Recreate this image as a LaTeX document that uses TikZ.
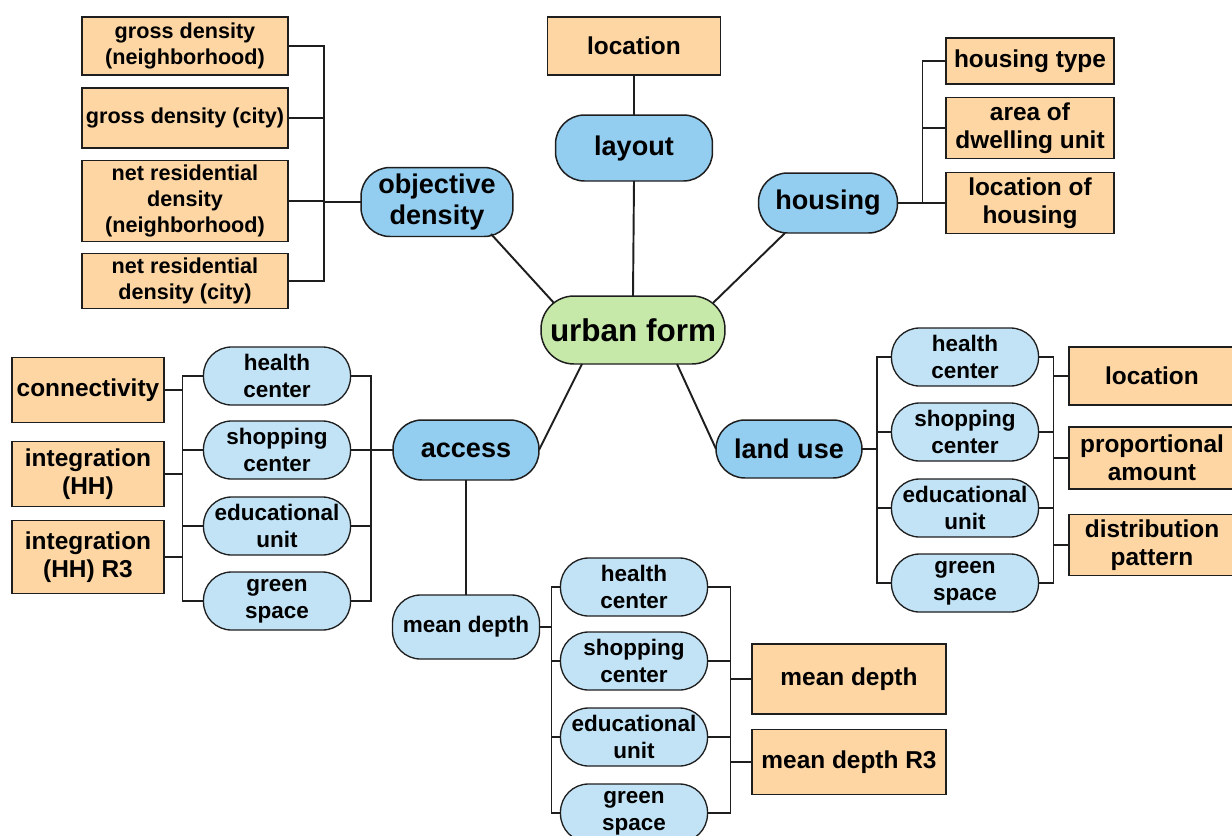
\documentclass[tikz,border=0pt]{standalone}
\usepackage{fontspec}
\setmainfont{Liberation Sans}
\usetikzlibrary{calc}

\definecolor{hubgreen}{HTML}{C6E8A8}
\definecolor{topicblue}{HTML}{93CDF0}
\definecolor{subblue}{HTML}{C2E3F5}
\definecolor{itemorange}{HTML}{FDD6A4}
\definecolor{edge}{HTML}{1E1E1E}

\tikzset{
	hub/.style={draw=edge, line width=0.85pt, fill=hubgreen, rounded corners=0.66cm, inner sep=0pt, outer sep=0pt, align=center,
		minimum width=3.68cm, minimum height=1.36cm, font=\fontsize{17.9}{20}\selectfont\bfseries},
	topic/.style={draw=edge, line width=0.85pt, fill=topicblue, rounded corners=0.58cm, inner sep=0pt, outer sep=0pt, align=center,
		font=\fontsize{15.4}{17.6}\selectfont\bfseries},
	subtopic/.style={draw=edge, line width=0.75pt, fill=subblue, rounded corners=0.56cm, inner sep=0pt, outer sep=0pt, align=center,
		minimum width=2.94cm, minimum height=1.16cm, font=\fontsize{12.8}{15.4}\selectfont\bfseries},
	itembox/.style={draw=edge, line width=0.75pt, fill=itemorange, inner sep=0pt, outer sep=0pt, align=center,
		font=\fontsize{13.9}{16}\selectfont\bfseries},
	leftitem/.style={itembox, minimum width=4.12cm, font=\fontsize{12.3}{14.8}\selectfont\bfseries},
	spoke/.style={draw=edge, line width=1.1pt},
	link/.style={draw=edge, line width=0.7pt},
}

\begin{document}
\begin{tikzpicture}[x=0.02cm, y=-0.02cm]
	\useasboundingbox (0,0) rectangle (1232,836);

	% Centre
		\node[hub] (uf) at (633,330) {urban form};

	% Layout
		\node[topic, minimum width=3.14cm, minimum height=1.32cm] (layout) at (634,148) {layout};
		\node[itembox, minimum width=3.46cm, minimum height=1.16cm] (loc) at (634,46) {location};

	% Housing
		\node[topic, minimum width=2.78cm, minimum height=1.2cm] (housing) at (828,203) {housing};
		\node[itembox, minimum width=3.36cm, minimum height=0.92cm] (htype) at (1030,61) {housing type};
		\node[itembox, minimum width=3.36cm, minimum height=1.22cm] (harea) at (1030,128) {area of\\dwelling unit};
		\node[itembox, minimum width=3.36cm, minimum height=1.22cm] (hloc) at (1030,203) {location of\\housing};

	% Objective density
		\node[topic, minimum width=3.04cm, minimum height=1.38cm] (od) at (437,202) {objective\\density};
		\node[leftitem, minimum height=1.16cm] (gdn) at (185,46) {gross density\\(neighborhood)};
		\node[leftitem, minimum height=1.2cm] (gdc) at (185,118) {gross density (city)};
		\node[leftitem, minimum height=1.62cm] (nrn) at (185,201) {net residential\\density\\(neighborhood)};
		\node[leftitem, minimum height=1.1cm] (nrc) at (185,281) {net residential\\density (city)};

	% Access
		\node[topic, minimum width=2.92cm, minimum height=1.2cm] (access) at (466,450) {access};
		\node[subtopic] (hc1) at (277,376) {health\\center};
		\node[subtopic] (sc1) at (277,450) {shopping\\center};
		\node[subtopic] (eu1) at (277,526) {educational\\unit};
		\node[subtopic] (gs1) at (277,601) {green\\space};
		\node[itembox, minimum width=3.04cm, minimum height=1.3cm] (con) at (88,390) {connectivity};
		\node[itembox, minimum width=3.04cm, minimum height=1.3cm] (ihh) at (88,474) {integration\\(HH)};
		\node[itembox, minimum width=3.04cm, minimum height=1.46cm] (ir3) at (88,557) {integration\\(HH) R3};

	% Mean depth
		\node[subtopic, minimum height=1.28cm] (md) at (466,627) {mean depth};
		\node[subtopic] (hc2) at (634,587) {health\\center};
		\node[subtopic] (sc2) at (634,661) {shopping\\center};
		\node[subtopic] (eu2) at (634,737) {educational\\unit};
		\node[subtopic] (gs2) at (634,813) {green\\space};
		\node[itembox, minimum width=3.88cm, minimum height=1.4cm] (mdb) at (849,679) {mean depth};
		\node[itembox, minimum width=3.88cm, minimum height=1.3cm] (mdr) at (849,762) {mean depth R3};

	% Land use
		\node[topic, minimum width=2.92cm, minimum height=1.16cm] (lu) at (789,449) {land use};
		\node[subtopic] (hc3) at (965,357) {health\\center};
		\node[subtopic] (sc3) at (965,432) {shopping\\center};
		\node[subtopic] (eu3) at (965,508) {educational\\unit};
		\node[subtopic] (gs3) at (965,583) {green\\space};
		\node[itembox, minimum width=3.32cm, minimum height=1.16cm] (loc3) at (1152,376) {location};
		\node[itembox, minimum width=3.32cm, minimum height=1.24cm] (pa) at (1152,458) {proportional\\amount};
		\node[itembox, minimum width=3.32cm, minimum height=1.22cm] (dp) at (1152,545) {distribution\\pattern};

	% Spokes
		\draw[spoke] (layout.south) -- (uf.north);
		\draw[spoke] ($(od.center)+(54,32)$) -- ($(uf.center)+(-79,-27)$);
		\draw[spoke] ($(housing.south)+(-43,0)$) -- ($(uf.center)+(80,-27)$);
		\draw[spoke] (access.east) -- ($(uf.south)+(-51,0)$);
		\draw[spoke] (lu.west) -- ($(uf.south)+(44,0)$);
		\draw[link] (loc.south) -- (layout.north);
		\draw[link] (access.south) -- (md.north);

	% Brackets: objective density
		\draw[link] (od.west) -- ++(-37,0) |- (gdn.east);
		\draw[link] (od.west) -- ++(-37,0) |- (gdc.east);
		\draw[link] (od.west) -- ++(-37,0) |- (nrn.east);
		\draw[link] (od.west) -- ++(-37,0) |- (nrc.east);

	% Brackets: housing
		\draw[link] (housing.east) -- ++(25,0) |- (htype.west);
		\draw[link] (housing.east) -- ++(25,0) |- (harea.west);
		\draw[link] (housing.east) -- ++(25,0) |- (hloc.west);

	% Brackets: access
		\draw[link] (access.west) -- ++(-22,0) |- (hc1.east);
		\draw[link] (access.west) -- ++(-22,0) |- (sc1.east);
		\draw[link] (access.west) -- ++(-22,0) |- (eu1.east);
		\draw[link] (access.west) -- ++(-22,0) |- (gs1.east);
		\draw[link] (hc1.west) -- ++(-21,0) |- (gs1.west);
		\draw[link] (sc1.west) -- ++(-21,0) |- (eu1.west);
		\draw[link] (con.east) -- ++(18.5,0) |- (hc1.west);
		\draw[link] (ihh.east) -- ++(18.5,0) |- (sc1.west);
		\draw[link] (ir3.east) -- ++(18.5,0) |- (eu1.west);

	% Brackets: mean depth
		\draw[link] (md.east) -- ++(12,0) |- (hc2.west);
		\draw[link] (md.east) -- ++(12,0) |- (sc2.west);
		\draw[link] (md.east) -- ++(12,0) |- (eu2.west);
		\draw[link] (md.east) -- ++(12,0) |- (gs2.west);
		\draw[link] (hc2.east) -- ++(23,0) |- (gs2.east);
		\draw[link] (sc2.east) -- ++(23,0) |- (eu2.east);
		\draw[link] (mdb.west) -- ++(-21.5,0) |- (sc2.east);
		\draw[link] (mdr.west) -- ++(-21.5,0) |- (eu2.east);

	% Brackets: land use
		\draw[link] (lu.east) -- ++(15,0) |- (hc3.west);
		\draw[link] (lu.east) -- ++(15,0) |- (sc3.west);
		\draw[link] (lu.east) -- ++(15,0) |- (eu3.west);
		\draw[link] (lu.east) -- ++(15,0) |- (gs3.west);
		\draw[link] (hc3.east) -- ++(15,0) |- (gs3.east);
		\draw[link] (sc3.east) -- ++(15,0) |- (eu3.east);
		\draw[link] (loc3.west) -- ++(-15.5,0) |- (hc3.east);
		\draw[link] (pa.west) -- ++(-15.5,0) |- (sc3.east);
		\draw[link] (dp.west) -- ++(-15.5,0) |- (eu3.east);
\end{tikzpicture}
\end{document}
